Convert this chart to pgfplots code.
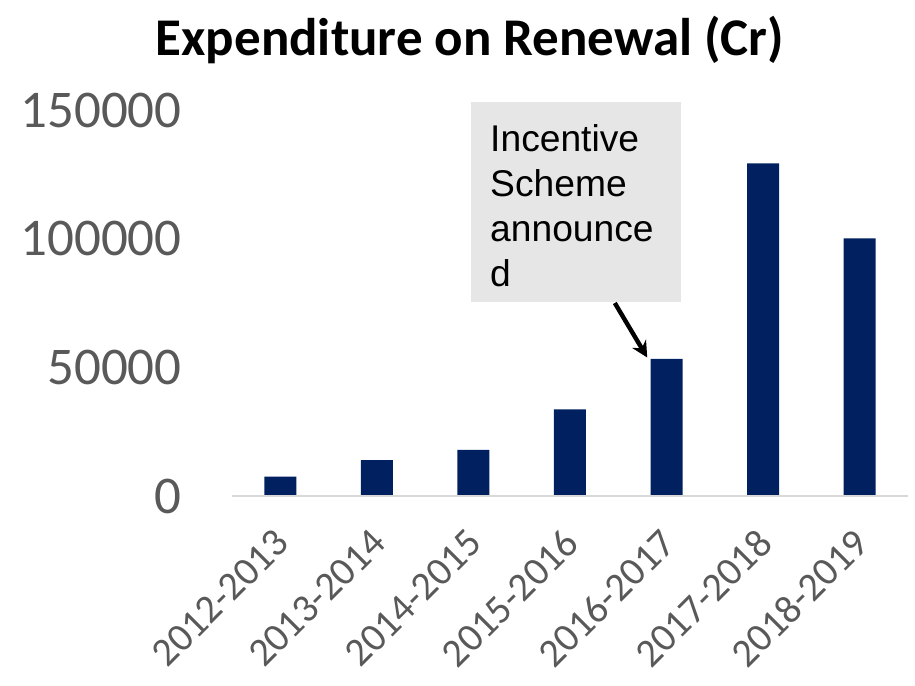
\documentclass[border=0pt]{standalone}
\usepackage{pgfplots}
\pgfplotsset{compat=1.18}
\usetikzlibrary{arrows.meta}
\usepackage{fontspec}
\setmainfont{Carlito}
\newfontfamily\arialf{Liberation Sans}
\definecolor{barnavy}{HTML}{002060}
\definecolor{tickgray}{HTML}{595959}
\definecolor{axgray}{HTML}{D9D9D9}
\definecolor{boxgray}{HTML}{E6E6E6}
\begin{document}
\begin{tikzpicture}
\path[use as bounding box] (-116pt,-94.5pt) rectangle (341.5pt,248pt);
\begin{axis}[
  anchor=south west, at={(0,0)},
  scale only axis, width=338pt, height=193pt,
  xmin=-0.5, xmax=6.5, ymin=0, ymax=150000,
  axis line style={draw=none},
  axis x line*=bottom, axis y line*=left,
  ytick={0,50000,100000,150000},
  yticklabels={0,50000,100000,150000},
  scaled y ticks=false,
  xtick={0,1,2,3,4,5,6},
  xticklabels={2012-2013,2013-2014,2014-2015,2015-2016,2016-2017,2017-2018,2018-2019},
  major tick length=0pt,
  yticklabel style={font=\fontsize{26.5}{29}\selectfont, text=tickgray, anchor=east, inner sep=0pt, xshift=-25pt},
  xticklabel style={font=\fontsize{20}{22}\selectfont, text=tickgray, xshift=1pt, yshift=-20pt, rotate=45, anchor=east, inner sep=0pt},
  clip=false,
]
\addplot[ybar, bar width=16pt, fill=barnavy, draw=none] coordinates {
  (0,7500) (1,13900) (2,17900) (3,33700) (4,53300) (5,129300) (6,100100)
};
\draw[axgray, line width=1pt] (axis cs:-0.5,0) -- (axis cs:6.5,0);
\fill[boxgray] (axis cs:1.975,75490) rectangle (axis cs:4.147,152920);
\node[anchor=north west, align=left, font=\arialf\fontsize{18.6}{22.5}\selectfont, inner sep=0pt, text=black]
  at (axis cs:2.17,144500) {Incentive\\Scheme\\announce\\d};
\draw[-{Stealth[length=8pt,width=8pt]}, line width=2.2pt, black] (axis cs:3.464,75000) -- (axis cs:3.80,53800);
\end{axis}
\node[font=\bfseries\fontsize{26.5}{29}\selectfont, text=black] at (119pt,228pt) {Expenditure on Renewal (Cr)};
\end{tikzpicture}
\end{document}
